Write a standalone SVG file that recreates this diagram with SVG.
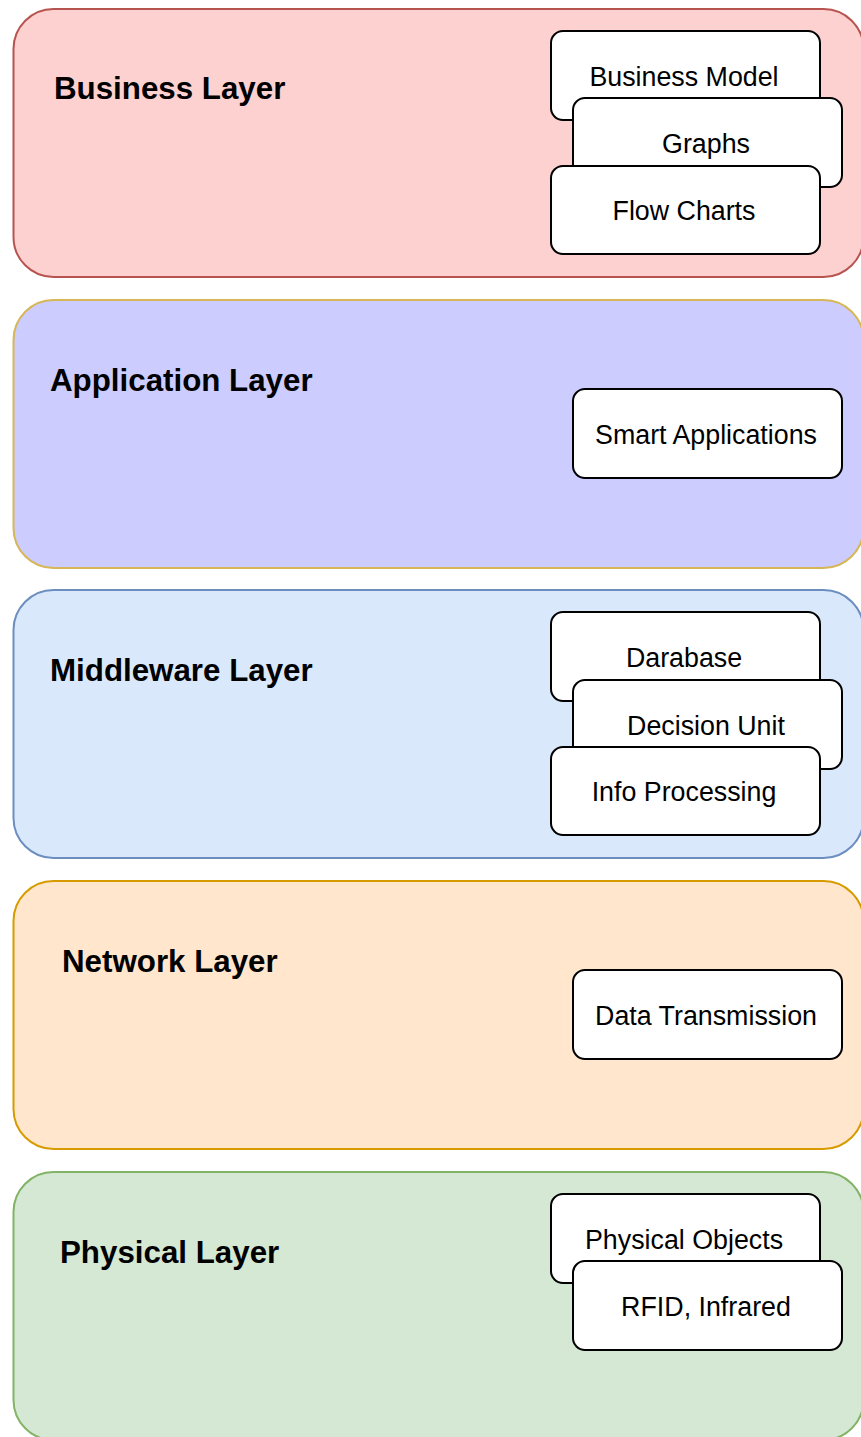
<svg xmlns="http://www.w3.org/2000/svg" width="861" height="1437" viewBox="0 0 861 1437">
  <style>
    .layer { stroke-width: 2; }
    .box { fill: #ffffff; stroke: #000000; stroke-width: 2; }
    .title { font-family: "Liberation Sans", Arial, sans-serif; font-weight: bold; font-size: 31.3px; fill: #000000; }
    .label { font-family: "Liberation Sans", Arial, sans-serif; font-size: 26.8px; fill: #000000; text-anchor: middle; }
  </style>
  <rect width="861" height="1437" fill="#ffffff"/>

  <!-- Business layer -->
  <g id="business-layer">
    <rect class="layer" x="13.5" y="9" width="850" height="268" rx="40" fill="#fdd1d0" stroke="#b85450"/>
    <text class="title" x="54" y="99">Business Layer</text>
  </g>
  <g id="business-model">
    <rect class="box" x="551" y="31" width="269" height="89" rx="12"/>
    <text class="label" x="684" y="86">Business Model</text>
  </g>
  <g id="graphs">
    <rect class="box" x="573" y="98" width="269" height="89" rx="12"/>
    <text class="label" x="706" y="153">Graphs</text>
  </g>
  <g id="flow-charts">
    <rect class="box" x="551" y="166" width="269" height="88" rx="12"/>
    <text class="label" x="684" y="220">Flow Charts</text>
  </g>

  <!-- Application layer -->
  <g id="application-layer">
    <rect class="layer" x="13.5" y="300" width="850" height="268" rx="40" fill="#ccccff" stroke="#d6b656"/>
    <text class="title" x="50" y="391">Application Layer</text>
  </g>
  <g id="smart-applications">
    <rect class="box" x="573" y="389" width="269" height="89" rx="12"/>
    <text class="label" x="706" y="444">Smart Applications</text>
  </g>

  <!-- Middleware layer -->
  <g id="middleware-layer">
    <rect class="layer" x="13.5" y="590" width="850" height="268" rx="40" fill="#dae8fc" stroke="#6c8ebf"/>
    <text class="title" x="50" y="681">Middleware Layer</text>
  </g>
  <g id="database">
    <rect class="box" x="551" y="612" width="269" height="89" rx="12"/>
    <text class="label" x="684" y="667">Darabase</text>
  </g>
  <g id="decision-unit">
    <rect class="box" x="573" y="680" width="269" height="89" rx="12"/>
    <text class="label" x="706" y="735">Decision Unit</text>
  </g>
  <g id="info-processing">
    <rect class="box" x="551" y="747" width="269" height="88" rx="12"/>
    <text class="label" x="684" y="801">Info Processing</text>
  </g>

  <!-- Network layer -->
  <g id="network-layer">
    <rect class="layer" x="13.5" y="881" width="850" height="268" rx="40" fill="#ffe6cc" stroke="#d79b00"/>
    <text class="title" x="62" y="972">Network Layer</text>
  </g>
  <g id="data-transmission">
    <rect class="box" x="573" y="970" width="269" height="89" rx="12"/>
    <text class="label" x="706" y="1025">Data Transmission</text>
  </g>

  <!-- Physical layer -->
  <g id="physical-layer">
    <rect class="layer" x="13.5" y="1172" width="850" height="268" rx="40" fill="#d5e8d4" stroke="#82b366"/>
    <text class="title" x="60" y="1263">Physical Layer</text>
  </g>
  <g id="physical-objects">
    <rect class="box" x="551" y="1194" width="269" height="89" rx="12"/>
    <text class="label" x="684" y="1249">Physical Objects</text>
  </g>
  <g id="rfid-infrared">
    <rect class="box" x="573" y="1261" width="269" height="89" rx="12"/>
    <text class="label" x="706" y="1316">RFID, Infrared</text>
  </g>

  <!-- no connectors between the stacked layers -->
  <g id="connectors"/>
</svg>
